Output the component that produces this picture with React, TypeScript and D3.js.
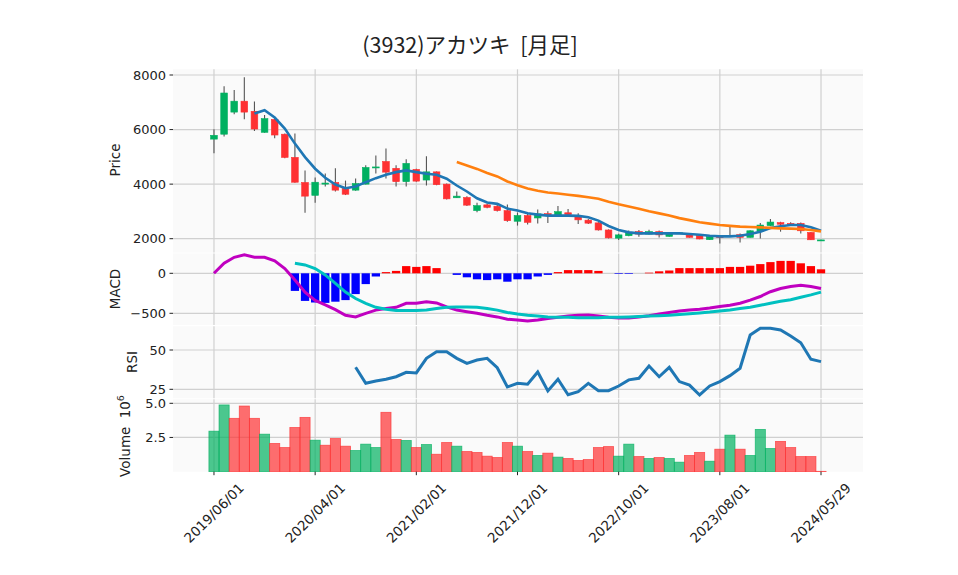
import * as d3 from "d3";

// monthly candles, index 0 = 2019/06 ... index 60 = 2024/05/29
const openP = [5650,5830,6640,7040,6670,5900,6370,5830,4980,4060,3590,4000,4060,3840,3780,4000,4610,4830,4580,4090,4540,4150,4450,4000,3500,3510,3030,3240,3190,3030,2640,2850,2760,2920,2850,2950,2830,2680,2580,2320,2020,2110,2260,2170,2260,2085,2205,2175,2110,1965,2080,2110,2150,2050,2270,2480,2590,2560,2560,2230,1940];
const closeP = [5790,7340,7040,6640,6020,6400,5800,4980,4070,3560,4070,4040,3780,3630,4020,4610,4630,4440,4090,4760,4110,4450,3980,3460,3560,3230,3210,3150,3030,2660,2850,2600,2910,2850,2990,2880,2690,2570,2320,2030,2140,2230,2170,2260,2140,2195,2215,2050,1990,2075,2070,2115,2050,2290,2500,2610,2530,2520,2290,1960,1955];
const highP = [6010,7590,7450,7920,7030,6530,6420,5860,5860,4500,4240,4390,4580,4130,4210,4690,5050,5310,4690,4910,4560,5020,4460,4020,3730,3560,3320,3280,3280,3250,2960,2920,3070,3005,3200,3090,2930,2720,2600,2340,2180,2300,2320,2330,2300,2250,2240,2210,2120,2130,2100,2440,2195,2310,2580,2720,2620,2600,2590,2250,1965];
const lowP = [5130,5750,6560,6380,5950,5880,5680,4950,4050,2950,3320,3910,3730,3600,3760,3990,4390,4210,3910,3910,4090,3950,3960,3440,3490,3200,2970,3120,3000,2620,2480,2520,2560,2580,2820,2840,2540,2540,2300,2010,1950,2090,2074,2150,2048,2070,2180,2040,1980,1950,1820,2100,1864,2040,2011,2470,2258,2470,2195,1950,1940];
// volume in millions
const volume = [2.96,4.88,3.90,4.80,3.90,2.74,2.06,1.76,3.23,3.97,2.30,1.93,2.42,1.86,1.54,2.01,1.76,4.34,2.35,2.28,1.76,1.98,1.27,2.13,1.86,1.47,1.40,1.13,1.03,2.13,1.86,1.47,1.18,1.35,1.06,0.96,0.81,0.88,1.76,1.83,1.13,2.01,1.10,0.96,1.03,0.96,0.69,1.18,1.40,0.76,1.64,2.67,1.64,1.18,3.09,1.69,2.21,1.76,1.10,1.10,0.02];

// moving averages
const ma5Start = 4;
const ma5 = [6589,6710,6442,6037,5485,4992,4565,4234,3987,3851,3914,4072,4219,4344,4440,4502,4440,4381,4344,4197,3950,3730,3483,3325,3277,3104,3030,2931,2883,2846,2846,2846,2835,2784,2662,2467,2320,2232,2195,2195,2195,2195,2195,2173,2147,2110,2085,2085,2110,2173,2258,2394,2453,2504,2504,2416,2294];
const ma25Start = 24;
const ma25 = [4808,4686,4558,4410,4282,4098,3958,3840,3755,3693,3656,3612,3571,3520,3461,3351,3259,3178,3097,3008,2929,2854,2754,2681,2600,2552,2504,2471,2442,2427,2416,2397,2379,2368,2357,2320,2269];

// MACD panel
const macd = [0,125,200,230,200,200,155,60,-85,-235,-340,-395,-455,-525,-545,-500,-460,-440,-425,-375,-375,-355,-370,-420,-460,-480,-500,-525,-545,-575,-585,-595,-585,-565,-550,-535,-525,-520,-535,-550,-560,-560,-545,-530,-510,-490,-470,-460,-450,-435,-415,-400,-375,-335,-290,-230,-190,-165,-150,-165,-190];
const signalStart = 8;
const signal = [125,105,60,-20,-125,-235,-315,-375,-425,-450,-465,-465,-465,-460,-440,-425,-420,-420,-425,-440,-460,-490,-510,-525,-535,-545,-550,-550,-555,-555,-555,-550,-550,-545,-540,-535,-530,-525,-515,-505,-495,-485,-470,-460,-440,-425,-400,-375,-350,-330,-300,-270,-235];
const hist = [-220,-345,-365,-370,-355,-335,-260,-135,-40,15,30,90,80,90,65,0,-20,-50,-75,-85,-75,-105,-75,-75,-40,-20,15,40,40,40,30,0,-8,-8,0,8,25,35,65,65,65,65,65,80,80,95,115,140,155,155,125,90,50];

// RSI panel
const rsiStart = 14;
const rsi = [39.0,28.8,30.3,31.4,33.0,35.8,35.4,44.7,48.9,48.9,44.7,41.5,43.6,44.7,38.7,26.5,28.8,28.2,36.0,24.0,31.4,21.5,23.5,28.8,24.1,24.1,27.1,31.0,32.0,39.8,33.0,39.0,29.9,27.7,21.4,27.1,29.9,33.7,38.4,59.5,63.8,63.8,62.7,58.9,54.6,44.1,42.6];

const xTickIdx = [0, 10, 20, 30, 40, 50, 60];
const xTickLabels = ["2019/06/01","2020/04/01","2021/02/01","2021/12/01","2022/10/01","2023/08/01","2024/05/29"];
const priceTicks = [2000, 4000, 6000, 8000];
const macdTicks = [-500, 0];
const rsiTicks = [25, 50];
const volTicks = [2.5, 5.0];

const UP = "#00b060";
const DOWN = "#fe3032";
const GRID = "#d0d0d0";
const BG = "#fafafa";
const FONT = "DejaVu Sans, sans-serif";
const FS = 13;

const L = 173, R = 863;
const panels = {
  price: [69.3, 252.5],
  macd: [253.5, 325],
  rsi: [326.3, 398.3],
  vol: [399.3, 471.7],
};

export default function App() {
  const x = d3.scaleLinear().domain([-4.05, 64.15]).range([L, R]);
  const step = x(1) - x(0);
  const yP = d3.scaleLinear().domain([2000, 8000]).range([238.7, 75]);
  const yM = d3.scaleLinear().domain([-500, 0]).range([313.3, 273.3]);
  const yR = d3.scaleLinear().domain([25, 50]).range([389.3, 350]);
  const yV = d3.scaleLinear().domain([0, 5]).range([471.6, 403.3]);

  const lineFrom = (start: number, scale: d3.ScaleLinear<number, number>) =>
    d3.line<number>().x((_, i) => x(start + i)).y((d) => scale(d));

  const panelBox = (key: string, [t, b]: number[], ticks: number[], scale: any, fmt: (v: number) => string) => (
    <g key={key}>
      <rect x={L} y={t} width={R - L} height={b - t} fill={BG} />
      {xTickIdx.map((i) => (
        <line key={"v" + i} x1={x(i)} x2={x(i)} y1={t} y2={b} stroke={GRID} strokeWidth={1.2} />
      ))}
      {ticks.map((v) => (
        <g key={"h" + v}>
          <line x1={L} x2={R} y1={scale(v)} y2={scale(v)} stroke={GRID} strokeWidth={1.2} />
          <line x1={L - 3.5} x2={L} y1={scale(v)} y2={scale(v)} stroke="#222" strokeWidth={1} />
          <text x={L - 7} y={scale(v)} dy="0.35em" textAnchor="end" fontSize={FS} fontFamily={FONT} fill="#222">
            {fmt(v)}
          </text>
        </g>
      ))}
    </g>
  );

  const volUp = (i: number) => (i === 0 ? closeP[0] >= openP[0] : closeP[i] >= closeP[i - 1]);

  return (
    <svg width={958} height={575} style={{ position: "absolute", left: 0, top: 0, background: "#fff" }}>
      <text x={470} y={53} textAnchor="middle" fontSize={21.5} fontFamily="'Noto Sans CJK JP', DejaVu Sans, sans-serif" fill="#222" style={{ whiteSpace: "pre" }}>
        {"(3932)アカツキ  [月足]"}
      </text>

      {panelBox("p", panels.price, priceTicks, yP, (v) => String(v))}
      {panelBox("m", panels.macd, macdTicks, yM, (v) => (v < 0 ? "\u2212" + Math.abs(v) : String(v)))}
      {panelBox("r", panels.rsi, rsiTicks, yR, (v) => String(v))}
      {panelBox("v", panels.vol, volTicks, yV, (v) => v.toFixed(1))}

      {/* candles */}
      <g>
        {openP.map((o, i) => {
          const c = closeP[i];
          const col = c >= o ? UP : DOWN;
          const top = yP(Math.max(o, c));
          const bot = yP(Math.min(o, c));
          const w = step * 0.66;
          return (
            <g key={i}>
              <line x1={x(i)} x2={x(i)} y1={yP(highP[i])} y2={yP(lowP[i])} stroke="#555" strokeWidth={1.1} />
              <rect x={x(i) - w / 2} y={top} width={w} height={Math.max(bot - top, 1)} fill={col} stroke={col} strokeWidth={0.6} />
            </g>
          );
        })}
      </g>
      <path d={lineFrom(ma5Start, yP)(ma5) || ""} fill="none" stroke="#1f77b4" strokeWidth={2.6} />
      <path d={lineFrom(ma25Start, yP)(ma25) || ""} fill="none" stroke="#ff7f0e" strokeWidth={2.6} />

      {/* MACD */}
      {hist.map((h, k) => {
        const i = signalStart + k;
        const w = step * 0.82;
        const y0 = yM(0);
        const y1 = yM(h);
        return (
          <rect key={"hb" + i} x={x(i) - w / 2} y={Math.min(y0, y1)} width={w} height={Math.abs(y1 - y0)} fill={h >= 0 ? "#ff0000" : "#0000ff"} />
        );
      })}
      <path d={lineFrom(0, yM)(macd) || ""} fill="none" stroke="#c000c0" strokeWidth={3} />
      <path d={lineFrom(signalStart, yM)(signal) || ""} fill="none" stroke="#00c0c0" strokeWidth={3} />

      {/* RSI */}
      <path d={lineFrom(rsiStart, yR)(rsi) || ""} fill="none" stroke="#1f77b4" strokeWidth={3} />

      {/* Volume */}
      {volume.map((v, i) => {
        const col = volUp(i) ? UP : DOWN;
        return (
          <rect key={"vb" + i} x={x(i) - step / 2} y={yV(v)} width={step} height={yV(0) - yV(v)}
            fill={col} fillOpacity={0.7} stroke={col} strokeOpacity={0.75} strokeWidth={0.8} />
        );
      })}

      {/* x axis */}
      {xTickIdx.map((i, k) => (
        <g key={"xt" + i}>
          <line x1={x(i)} x2={x(i)} y1={panels.vol[1]} y2={panels.vol[1] + 3.5} stroke="#222" />
          <text
            transform={`translate(${x(i)},${513}) rotate(-45)`}
            textAnchor="middle"
            dy="0.35em"
            fontSize={13.5}
            fontFamily={FONT}
            fill="#222"
          >
            {xTickLabels[k]}
          </text>
        </g>
      ))}

      {/* y labels */}
      <text transform="translate(120,160) rotate(-90)" textAnchor="middle" fontSize={13.5} fontFamily={FONT} fill="#222">Price</text>
      <text transform="translate(120,289) rotate(-90)" textAnchor="middle" fontSize={13.5} fontFamily={FONT} fill="#222">MACD</text>
      <text transform="translate(137,362) rotate(-90)" textAnchor="middle" fontSize={13.5} fontFamily={FONT} fill="#222">RSI</text>
      <text transform="translate(130,436) rotate(-90)" textAnchor="middle" fontSize={13.5} fontFamily={FONT} fill="#222">
        Volume <tspan dx="4">10</tspan><tspan dy="-6" fontSize={9.5}>6</tspan>
      </text>
    </svg>
  );
}
